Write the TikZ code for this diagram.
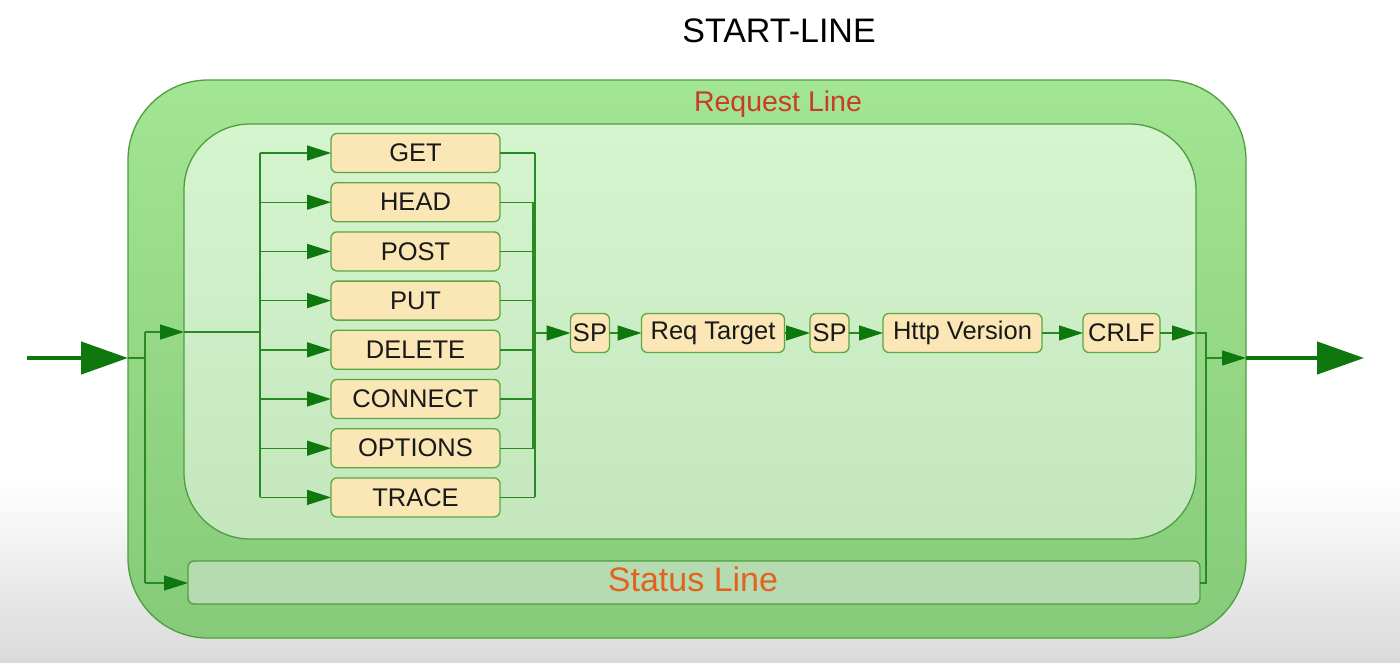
\documentclass[tikz,border=0pt]{standalone}
\usepackage{fontspec}
\setmainfont{Liberation Sans}
\usetikzlibrary{arrows.meta}
\definecolor{outerTop}{HTML}{A2E593}
\definecolor{outerBot}{HTML}{86CB79}
\definecolor{outerBorder}{HTML}{4E9E3E}
\definecolor{innerTop}{HTML}{D5F5CF}
\definecolor{innerBot}{HTML}{C3E6BC}
\definecolor{statusFill}{HTML}{B7DBB0}
\definecolor{boxFill}{HTML}{FBE6B5}
\definecolor{boxBorder}{HTML}{5BA843}
\definecolor{lineGreen}{HTML}{2A8A22}
\definecolor{headGreen}{HTML}{0E780E}
\definecolor{reqRed}{HTML}{CC3B2A}
\definecolor{statOrange}{HTML}{E2631F}
\definecolor{bgBot}{HTML}{DADADA}
\begin{document}
\begin{tikzpicture}[x=1pt,y=-1pt,
  every node/.style={inner sep=0pt, outer sep=0pt},
  tbox/.style={draw=boxBorder, line width=1.3pt, fill=boxFill, rounded corners=6pt,
    minimum height=39pt, font=\fontsize{25.5}{28}\selectfont, text=black!90},
  mbox/.style={tbox, minimum width=169pt},
  conn/.style={draw=lineGreen, line width=1.4pt},
  arr/.style={conn, -{Triangle[length=24pt,width=15pt,fill=headGreen,color=headGreen]}},
  bigarr/.style={draw=headGreen, line width=4.5pt, -{Triangle[length=47pt,width=32pt,fill=headGreen,color=headGreen]}}
]
\useasboundingbox (0,0) rectangle (1400,662);
\fill[white] (0,0) rectangle (1400,662);
\shade[top color=white, bottom color=bgBot] (0,480) rectangle (1400,662);

% containers
\node[shade, top color=outerTop, bottom color=outerBot, draw=outerBorder, line width=1.3pt,
  rounded corners=80pt, minimum width=1118pt, minimum height=558pt] (outer) at (687,359) {};
\node[shade, top color=innerTop, bottom color=innerBot, draw=outerBorder, line width=1.3pt,
  rounded corners=66pt, minimum width=1012pt, minimum height=415pt] (inner) at (690,331.5) {};
\node[draw=outerBorder, fill=statusFill, line width=1.3pt, rounded corners=6pt,
  minimum width=1012pt, minimum height=43pt] (status) at (694,582.5) {};

% texts
\node[font=\fontsize{34}{37}\selectfont, text=black] (title) at (779,31) {START-LINE};
\node[font=\fontsize{28.5}{31}\selectfont, text=reqRed] (reqlbl) at (778,104) {Request Line};
\node[font=\fontsize{34}{37}\selectfont, text=statOrange] (statlbl) at (693,579) {Status Line};

% methods
\node[mbox] (get) at (415.5,153) {GET};
\node[mbox] (head) at (415.5,202.2) {HEAD};
\node[mbox] (post) at (415.5,251.4) {POST};
\node[mbox] (put) at (415.5,300.6) {PUT};
\node[mbox] (delete) at (415.5,349.8) {DELETE};
\node[mbox] (connect) at (415.5,399) {CONNECT};
\node[mbox] (options) at (415.5,448.2) {OPTIONS};
\node[mbox] (trace) at (415.5,497.4) {TRACE};

% main row
\node[tbox, minimum width=39pt] (sp1) at (590,333) {SP};
\node[tbox, minimum width=143pt] (req) at (713,333) {Req Target};
\node[tbox, minimum width=39pt] (sp2) at (829.5,333) {SP};
\node[tbox, minimum width=159pt] (http) at (962.5,333) {Http Version};
\node[tbox, minimum width=77pt] (crlf) at (1121.5,333) {CRLF};

% coordinates
\coordinate (inL) at (27,358);
\coordinate (outerL) at (128,358);
\coordinate (splitL) at (145,358);
\coordinate (splitLtop) at (145,332);
\coordinate (splitLbot) at (145,583);
\coordinate (innerL) at (184,332);
\coordinate (statusL) at (188,583);
\coordinate (trunkTop) at (260,153);
\coordinate (trunkBot) at (260,497.4);
\coordinate (trunkMid) at (260,332);
\coordinate (busTop) at (535,153);
\coordinate (busBot) at (535,497.4);
\coordinate (bus2Top) at (533,202.2);
\coordinate (bus2Bot) at (533,448.2);
\coordinate (busMid) at (535,333);
\coordinate (innerR) at (1196,333);
\coordinate (joinR) at (1206,333);
\coordinate (joinRbot) at (1206,583);
\coordinate (joinRmid) at (1206,358);
\coordinate (outerR) at (1246,358);
\coordinate (outEnd) at (1364,358);

% left entry
\draw[bigarr] (inL) -- (outerL);
\draw[conn] (outerL) -- (splitL);
\draw[conn] (splitLtop) -- (splitLbot);
\draw[arr] (splitLtop) -- (innerL);
\draw[arr] (splitLbot) -- (statusL);
\draw[conn] (innerL) -- (trunkMid);
\draw[conn] (trunkTop) -- (trunkBot);
\foreach \m in {get,head,post,put,delete,connect,options,trace}{
  \draw[arr] (trunkTop |- \m.west) -- (\m.west);
  \draw[conn] (\m.east) -- (busTop |- \m.east);
}
\draw[conn] (busTop) -- (busBot);
\draw[conn] (bus2Top) -- (bus2Bot);

% main row arrows
\draw[arr] (busMid) -- (sp1.west);
\draw[arr] (sp1) -- (req);
\draw[arr] (req) -- (sp2);
\draw[arr] (sp2) -- (http);
\draw[arr] (http) -- (crlf);
\draw[arr] (crlf) -- (innerR);
\draw[conn] (innerR) -- (joinR) -- (joinRbot) -- (status.east |- joinRbot);
\draw[arr] (joinRmid) -- (outerR);
\draw[bigarr] (outerR) -- (outEnd);
\end{tikzpicture}
\end{document}
